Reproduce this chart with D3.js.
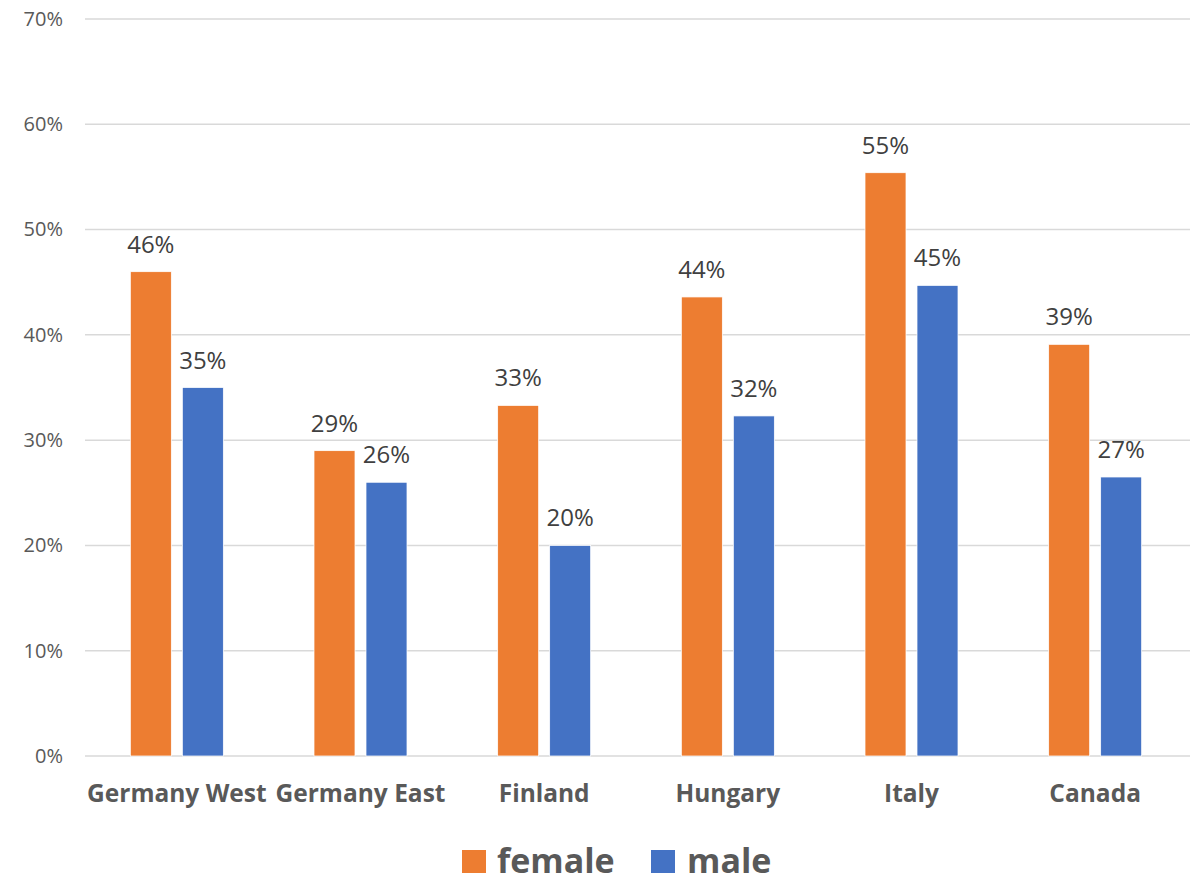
<!DOCTYPE html>
<html>
<head>
<meta charset="utf-8">
<script src="https://cdn.jsdelivr.net/npm/d3@7"></script>
<style>
  body { margin: 0; background: #fff; }
  svg { display: block; font-family: "Open Sans", "Noto Sans", sans-serif; }
</style>
</head>
<body>
<script>
const countries = ['Germany West', 'Germany East', 'Finland', 'Hungary', 'Italy', 'Canada'];
const series = ['female', 'male'];
const female = [0.46, 0.29, 0.333, 0.436, 0.554, 0.391];
const male = [0.35, 0.26, 0.20, 0.323, 0.447, 0.265];
const yTicks = [0, 0.1, 0.2, 0.3, 0.4, 0.5, 0.6, 0.7];
const colors = { female: '#ed7d31', male: '#4472c4' };

const width = 1193, height = 879;
const margin = { top: 19, right: 6, bottom: 123, left: 85 };
const font = '"Open Sans", "Noto Sans", sans-serif';

const svg = d3.select('body').append('svg')
    .attr('width', width)
    .attr('height', height);

const x0 = d3.scaleBand()
    .domain(countries)
    .range([margin.left, width - margin.right])
    .padding(0);

const groupW = 93;
const x1 = d3.scaleBand()
    .domain(series)
    .range([x0.bandwidth() / 2 - groupW / 2, x0.bandwidth() / 2 + groupW / 2])
    .paddingInner(0.2115);

const y = d3.scaleLinear()
    .domain([0, 0.7])
    .range([height - margin.bottom, margin.top]);

const pct = d3.format('.0%');

// gridlines
svg.append('g')
    .selectAll('line')
    .data(yTicks).enter()
    .append('line')
    .attr('x1', margin.left)
    .attr('x2', width - 3)
    .attr('y1', d => y(d))
    .attr('y2', d => y(d))
    .attr('stroke', '#d9d9d9')
    .attr('stroke-width', 1.5);

// y axis labels
const yAxis = svg.append('g')
    .attr('transform', `translate(${margin.left - 22},0)`)
    .call(d3.axisLeft(y).tickValues(yTicks).tickFormat(pct).tickSize(0).tickPadding(0))
    .attr('font-family', font);
yAxis.select('.domain').remove();
yAxis.selectAll('text')
    .attr('fill', '#595959')
    .style('font-size', '20px');

// x axis labels
const xAxis = svg.append('g')
    .attr('transform', `translate(0,${y(0)})`)
    .call(d3.axisBottom(x0).tickSize(0).tickPadding(29))
    .attr('font-family', font);
xAxis.select('.domain').remove();
xAxis.selectAll('text')
    .attr('fill', '#595959')
    .style('font-size', '24.5px')
    .style('font-weight', 'bold');

const rows = countries.map((c, i) => ({ country: c, female: female[i], male: male[i] }));

const groups = svg.append('g')
    .selectAll('g')
    .data(rows).enter()
    .append('g')
    .attr('transform', d => `translate(${x0(d.country)},0)`);

const bars = groups.selectAll('g')
    .data(d => series.map(s => ({ key: s, value: d[s] })))
    .enter().append('g');

bars.append('rect')
    .attr('x', d => x1(d.key))
    .attr('width', x1.bandwidth())
    .attr('y', d => y(d.value))
    .attr('height', d => y(0) - y(d.value))
    .attr('fill', d => colors[d.key])
    .attr('stroke', '#fff')
    .attr('stroke-width', 0.75);

bars.append('text')
    .attr('x', d => x1(d.key) + x1.bandwidth() / 2)
    .attr('y', d => y(d.value) - 19)
    .attr('text-anchor', 'middle')
    .attr('fill', '#404040')
    .style('font-size', '24px')
    .text(d => pct(d.value));

// legend
const legendX = [462, 651];
const legend = svg.append('g')
    .selectAll('g')
    .data(series).enter()
    .append('g')
    .attr('transform', (d, i) => `translate(${legendX[i]},850)`);

legend.append('rect')
    .attr('width', 24)
    .attr('height', 23)
    .attr('fill', d => colors[d]);

legend.append('text')
    .attr('x', d => d === 'female' ? 35 : 36)
    .attr('y', 23)
    .attr('fill', '#595959')
    .style('font-size', '34px')
    .style('font-weight', 'bold')
    .text(d => d);
</script>
</body>
</html>
